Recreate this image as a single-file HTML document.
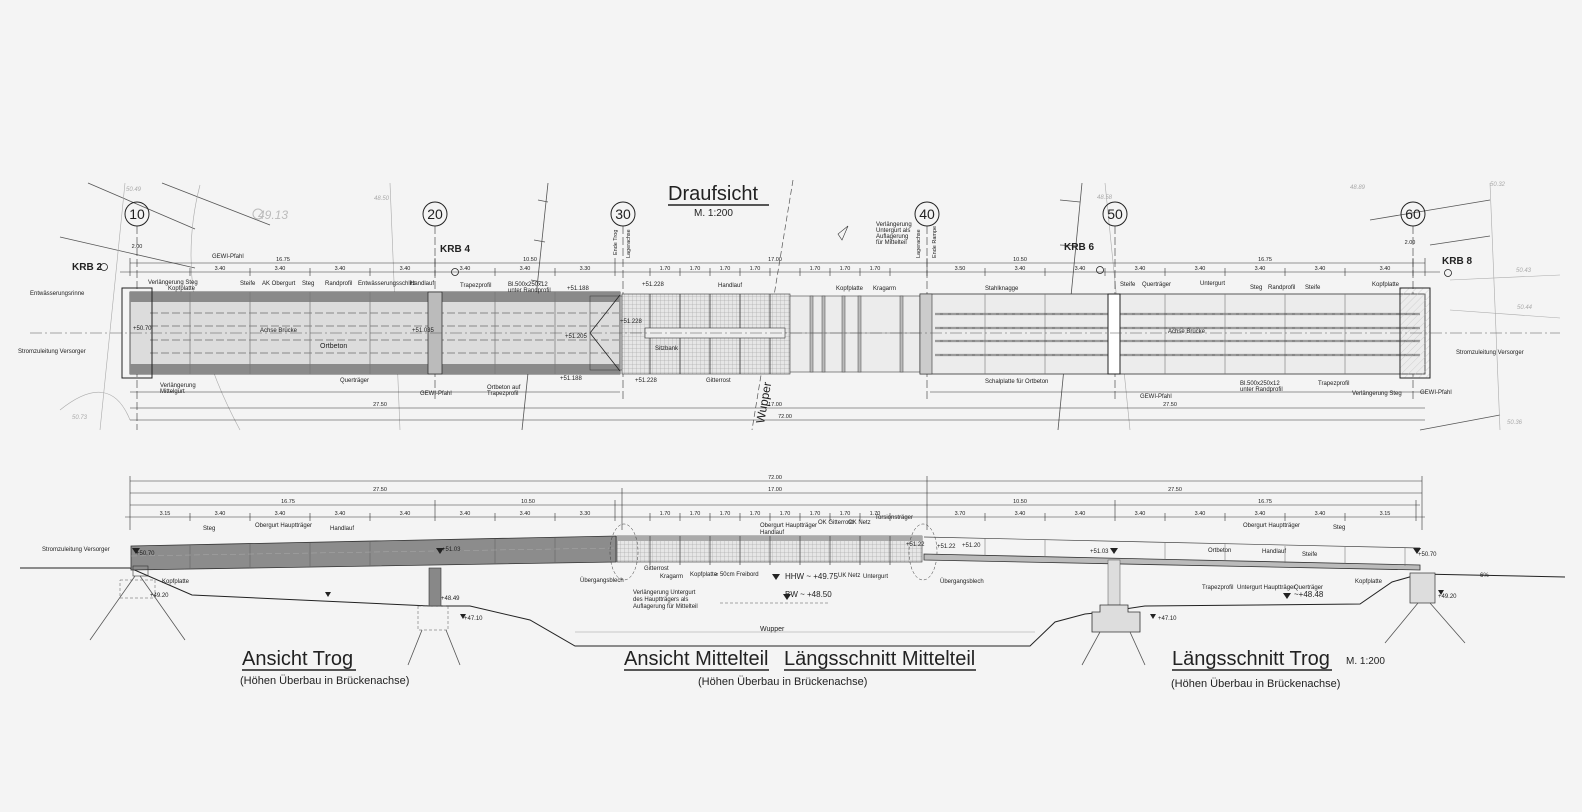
<!DOCTYPE html>
<html><head><meta charset="utf-8"><style>
html,body{margin:0;padding:0;background:#f4f4f4;}
svg{display:block}
text{font-family:"Liberation Sans",sans-serif;fill:#222}
.s{font-size:6px}
.t{font-size:5.5px}
.g{fill:#aaa;font-size:6px;font-style:italic}
</style></head><body>
<svg width="1582" height="812" viewBox="0 0 1582 812" xmlns="http://www.w3.org/2000/svg">
<defs>
<pattern id="grid" width="4" height="4" patternUnits="userSpaceOnUse"><rect width="4" height="4" fill="#e6e6e6"/><path d="M0 0H4M0 0V4" stroke="#999" stroke-width="0.5"/></pattern>
<pattern id="hatch" width="5" height="5" patternUnits="userSpaceOnUse" patternTransform="rotate(45)"><path d="M0 0V5" stroke="#bbb" stroke-width="0.6"/></pattern>
</defs>
<rect width="1582" height="812" fill="#f4f4f4"/>

<g stroke="#555" stroke-width="0.8" fill="none">
<path d="M88 183 L195 229"/><path d="M162 183 L270 225"/><path d="M60 237 L195 268"/>
<path d="M548 183 L522 430"/><path d="M538 200 L548 202 M534 240 L545 242 M531 280 L542 282 M528 320 L539 322"/>
<path d="M1082 183 L1058 430"/><path d="M1060 200 L1080 202 M1060 245 L1078 246"/>
<path d="M1370 220 L1490 200"/><path d="M1430 245 L1490 236"/><path d="M1420 430 L1500 415"/>
</g>
<g stroke="#aaa" stroke-width="0.6" fill="none">
<path d="M125 183 L100 430"/><path d="M390 183 L400 430"/><path d="M1105 183 L1130 430"/><path d="M1490 183 L1500 430"/>
<path d="M60 410 Q110 370 130 420"/><path d="M200 185 Q170 300 240 430"/>
<path d="M1450 280 L1560 275"/><path d="M1450 310 L1560 318"/>
</g>
<path d="M793 180 L752 430" stroke="#555" stroke-width="0.7" stroke-dasharray="6 3" fill="none"/>
<text x="258" y="219" style="font-size:12px;fill:#bbb;font-style:italic">49.13</text>
<circle cx="258" cy="214" r="5" fill="none" stroke="#bbb"/>
<text x="126" y="191" class="g">50.49</text><text x="374" y="200" class="g">48.50</text><text x="1097" y="199" class="g">48.58</text><text x="1350" y="189" class="g">48.89</text><text x="1490" y="186" class="g">50.32</text><text x="1516" y="272" class="g">50.43</text><text x="1517" y="309" class="g">50.44</text><text x="1507" y="424" class="g">50.36</text><text x="72" y="419" class="g">50.73</text>

<text x="668" y="200" style="font-size:20px">Draufsicht</text>
<line x1="668" y1="205" x2="769" y2="205" stroke="#222" stroke-width="1.5"/>
<text x="694" y="216" style="font-size:10px">M. 1:200</text>

<g fill="none" stroke="#222" stroke-width="1">
<circle cx="137" cy="214" r="12"/><circle cx="435" cy="214" r="12"/><circle cx="623" cy="214" r="12"/><circle cx="927" cy="214" r="12"/><circle cx="1115" cy="214" r="12"/><circle cx="1413" cy="214" r="12"/>
</g>
<g style="font-size:14px" text-anchor="middle">
<text x="137" y="219">10</text><text x="435" y="219">20</text><text x="623" y="219">30</text><text x="927" y="219">40</text><text x="1115" y="219">50</text><text x="1413" y="219">60</text>
</g>
<g stroke="#333" stroke-width="0.6" stroke-dasharray="8 3">
<line x1="137" y1="226" x2="137" y2="430"/><line x1="435" y1="226" x2="435" y2="400"/><line x1="623" y1="226" x2="623" y2="400"/><line x1="927" y1="226" x2="927" y2="400"/><line x1="1115" y1="226" x2="1115" y2="400"/><line x1="1413" y1="226" x2="1413" y2="400"/>
</g>

<g style="font-size:10px;font-weight:bold"><text x="72" y="270">KRB 2</text><text x="440" y="252">KRB 4</text><text x="1064" y="250">KRB 6</text><text x="1442" y="264">KRB 8</text></g>
<g fill="none" stroke="#222" stroke-width="0.8"><circle cx="104" cy="267" r="3.5"/><circle cx="455" cy="272" r="3.5"/><circle cx="1100" cy="270" r="3.5"/><circle cx="1448" cy="273" r="3.5"/></g>

<g stroke="#333" stroke-width="0.6">
<line x1="130" y1="263" x2="1425" y2="263"/><line x1="120" y1="272" x2="1440" y2="272"/>
<line x1="130" y1="408" x2="1425" y2="408"/><line x1="130" y1="420" x2="1425" y2="420"/>
<line x1="130" y1="392" x2="620" y2="392"/><line x1="930" y1="392" x2="1425" y2="392"/>
</g>
<g stroke="#333" stroke-width="0.6">
<path d="M130 258V276M190 268V276M250 268V276M310 268V276M370 268V276M435 258V276M495 268V276M555 268V276M615 258V276M650 268V276M680 268V276M710 268V276M740 268V276M770 268V276M800 268V276M830 268V276M860 268V276M890 268V276M927 258V276M985 268V276M1045 268V276M1105 268V276M1165 268V276M1225 268V276M1285 268V276M1345 268V276M1413 258V276M1425 258V276"/>
</g>
<g class="t" text-anchor="middle">
<text x="283" y="261" class="t">16.75</text><text x="530" y="261" class="t">10.50</text><text x="775" y="261" class="t">17.00</text><text x="1020" y="261" class="t">10.50</text><text x="1265" y="261" class="t">16.75</text>
<text x="220" y="270" class="t">3.40</text><text x="280" y="270" class="t">3.40</text><text x="340" y="270" class="t">3.40</text><text x="405" y="270" class="t">3.40</text><text x="465" y="270" class="t">3.40</text><text x="525" y="270" class="t">3.40</text><text x="585" y="270" class="t">3.30</text>
<text x="665" y="270" class="t">1.70</text><text x="695" y="270" class="t">1.70</text><text x="725" y="270" class="t">1.70</text><text x="755" y="270" class="t">1.70</text><text x="815" y="270" class="t">1.70</text><text x="845" y="270" class="t">1.70</text><text x="875" y="270" class="t">1.70</text>
<text x="960" y="270" class="t">3.50</text><text x="1020" y="270" class="t">3.40</text><text x="1080" y="270" class="t">3.40</text><text x="1140" y="270" class="t">3.40</text><text x="1200" y="270" class="t">3.40</text><text x="1260" y="270" class="t">3.40</text><text x="1320" y="270" class="t">3.40</text><text x="1385" y="270" class="t">3.40</text>
<text x="380" y="406" class="t">27.50</text><text x="1170" y="406" class="t">27.50</text><text x="775" y="406" class="t">17.00</text><text x="785" y="418" class="t">72.00</text><text x="137" y="248" class="t">2.00</text><text x="1410" y="244" class="t">2.00</text>
</g>

<rect x="130" y="292" width="490" height="82" fill="#dcdcdc" stroke="#333" stroke-width="0.8"/>
<rect x="130" y="292" width="490" height="10" fill="#8a8a8a"/>
<rect x="130" y="364" width="490" height="10" fill="#8a8a8a"/>
<g stroke="#999" stroke-width="1.2" stroke-dasharray="8 3">
<line x1="150" y1="313" x2="620" y2="313"/><line x1="150" y1="353" x2="620" y2="353"/><line x1="150" y1="326" x2="620" y2="326"/><line x1="150" y1="340" x2="620" y2="340"/>
</g>
<g stroke="#777" stroke-width="0.7"><path d="M190 292V374M250 292V374M310 292V374M370 292V374M495 292V374M555 292V374"/></g>
<rect x="122" y="288" width="30" height="90" fill="none" stroke="#222" stroke-width="1"/>
<rect x="428" y="292" width="14" height="82" fill="#bbb" stroke="#222" stroke-width="0.7"/>
<path d="M620 295 L590 333 L620 371" fill="none" stroke="#222" stroke-width="0.8"/>
<rect x="590" y="296" width="32" height="74" fill="none" stroke="#333" stroke-width="0.5"/>

<rect x="622" y="294" width="168" height="80" fill="url(#grid)" stroke="#333" stroke-width="0.6"/>
<g stroke="#333" stroke-width="0.8"><path d="M650 294V374M680 294V374M710 294V374M740 294V374M770 294V374"/></g>
<rect x="645" y="328" width="140" height="10" fill="#eee" stroke="#333" stroke-width="0.6"/>
<rect x="790" y="296" width="130" height="76" fill="#ececec" stroke="#444" stroke-width="0.6"/>
<g fill="#bbb" stroke="#444" stroke-width="0.5"><rect x="810" y="296" width="3" height="76"/><rect x="822" y="296" width="3" height="76"/><rect x="842" y="296" width="3" height="76"/><rect x="858" y="296" width="3" height="76"/><rect x="900" y="296" width="3" height="76"/></g>
<line x1="790" y1="333" x2="920" y2="333" stroke="#666" stroke-width="0.5"/>

<rect x="920" y="294" width="505" height="80" fill="#ececec" stroke="#333" stroke-width="0.8"/>
<rect x="920" y="294" width="12" height="80" fill="#ccc" stroke="#333" stroke-width="0.6"/>
<g stroke="#888" stroke-width="2.2"><path d="M935 314H1420M935 328H1420M935 341H1420M935 355H1420"/></g>
<g stroke="#bbb" stroke-width="0.8" stroke-dasharray="5 3"><path d="M935 314H1420M935 328H1420M935 341H1420M935 355H1420"/></g>
<g stroke="#777" stroke-width="0.6"><path d="M985 294V374M1045 294V374M1165 294V374M1225 294V374M1285 294V374M1345 294V374"/></g>
<rect x="1108" y="294" width="12" height="80" fill="#fff" stroke="#222" stroke-width="1"/>
<rect x="1400" y="288" width="30" height="90" fill="url(#hatch)" stroke="#222" stroke-width="1"/>
<line x1="30" y1="333" x2="1560" y2="333" stroke="#555" stroke-width="0.6" stroke-dasharray="12 3 2 3"/>
<text transform="translate(764,424) rotate(-80)" style="font-size:12px">Wupper</text>

<g class="s">
<text x="30" y="295">Entwässerungsrinne</text><text x="18" y="353">Stromzuleitung Versorger</text>
<text x="148" y="284">Verlängerung Steg</text><text x="168" y="290">Kopfplatte</text><text x="212" y="258">GEWI-Pfahl</text>
<text x="240" y="285">Steife</text><text x="262" y="285">AK Obergurt</text><text x="302" y="285">Steg</text><text x="325" y="285">Randprofil</text><text x="358" y="285">Entwässerungsschlitz</text><text x="410" y="285">Handlauf</text><text x="460" y="287">Trapezprofil</text>
<text x="508" y="286">Bl.500x250x12</text><text x="508" y="292">unter Randprofil</text>
<text x="260" y="332">Achse Brücke</text><text x="320" y="348" style="font-size:7px">Ortbeton</text><text x="340" y="382">Querträger</text>
<text x="160" y="387">Verlängerung</text><text x="160" y="393">Mittelgurt</text><text x="420" y="395">GEWI-Pfahl</text>
<text x="487" y="389">Ortbeton auf</text><text x="487" y="395">Trapezprofil</text>
<text x="133" y="330">+50.70</text><text x="412" y="332">+51.035</text><text x="567" y="290">+51.188</text><text x="642" y="286">+51.228</text><text x="620" y="323">+51.228</text><text x="565" y="338">+51.205</text><text x="560" y="380">+51.188</text><text x="635" y="382">+51.228</text>
<text x="718" y="287">Handlauf</text><text x="655" y="350">Sitzbank</text><text x="706" y="382">Gitterrost</text>
<text x="836" y="290">Kopfplatte</text><text x="873" y="290">Kragarm</text>
<text x="876" y="226">Verlängerung</text><text x="876" y="232">Untergurt als</text><text x="876" y="238">Auflagerung</text><text x="876" y="244">für Mittelteil</text>
<text x="985" y="290">Stahlknagge</text><text x="1120" y="286">Steife</text><text x="1142" y="286">Querträger</text><text x="1200" y="285">Untergurt</text><text x="1250" y="289">Steg</text><text x="1268" y="289">Randprofil</text><text x="1305" y="289">Steife</text>
<text x="1168" y="333">Achse Brücke</text><text x="985" y="383">Schalplatte für Ortbeton</text><text x="1140" y="398">GEWI-Pfahl</text>
<text x="1240" y="385">Bl.500x250x12</text><text x="1240" y="391">unter Randprofil</text><text x="1318" y="385">Trapezprofil</text>
<text x="1352" y="395">Verlängerung Steg</text><text x="1420" y="394">GEWI-Pfahl</text><text x="1372" y="286">Kopfplatte</text><text x="1456" y="354">Stromzuleitung Versorger</text>
</g>
<g class="t"><text x="617" y="255" transform="rotate(-90 617 255)">Ende Trog</text><text x="630" y="258" transform="rotate(-90 630 258)">Lagerachse</text><text x="920" y="258" transform="rotate(-90 920 258)">Lagerachse</text><text x="936" y="258" transform="rotate(-90 936 258)">Ende Rampe</text></g>
<path d="M842 240 L848 226 L838 234 Z" fill="none" stroke="#333" stroke-width="0.6"/>

<g stroke="#333" stroke-width="0.6">
<line x1="130" y1="481" x2="1422" y2="481"/><line x1="130" y1="493" x2="1422" y2="493"/><line x1="130" y1="505" x2="1420" y2="505"/><line x1="125" y1="517" x2="1425" y2="517"/>
<path d="M130 476V530M190 513V521M250 513V521M310 513V521M370 513V521M435 500V521M495 513V521M555 513V521M615 500V521M622 488V530M650 513V521M680 513V521M710 513V521M740 513V521M770 513V521M800 513V521M830 513V521M860 513V521M890 513V521M927 476V530M985 513V521M1045 513V521M1115 500V521M1165 513V521M1225 513V521M1285 513V521M1345 513V521M1416 500V521M1422 476V530"/>
</g>
<g class="t" text-anchor="middle">
<text x="775" y="479">72.00</text><text x="380" y="491">27.50</text><text x="775" y="491">17.00</text><text x="1175" y="491">27.50</text><text x="288" y="503">16.75</text><text x="528" y="503">10.50</text><text x="1020" y="503">10.50</text><text x="1265" y="503">16.75</text>
<text x="165" y="515">3.15</text><text x="220" y="515">3.40</text><text x="280" y="515">3.40</text><text x="340" y="515">3.40</text><text x="405" y="515">3.40</text><text x="465" y="515">3.40</text><text x="525" y="515">3.40</text><text x="585" y="515">3.30</text>
<text x="665" y="515">1.70</text><text x="695" y="515">1.70</text><text x="725" y="515">1.70</text><text x="755" y="515">1.70</text><text x="785" y="515">1.70</text><text x="815" y="515">1.70</text><text x="845" y="515">1.70</text><text x="875" y="515">1.70</text>
<text x="960" y="515">3.70</text><text x="1020" y="515">3.40</text><text x="1080" y="515">3.40</text><text x="1140" y="515">3.40</text><text x="1200" y="515">3.40</text><text x="1260" y="515">3.40</text><text x="1320" y="515">3.40</text><text x="1385" y="515">3.15</text>
</g>

<path d="M20 568 L130 568 L192 595 L430 606 L470 606 L530 620 L575 646 L1030 646 L1055 622 L1085 614 L1105 612 L1145 606 L1360 604 L1392 582 L1420 574 L1565 577" fill="none" stroke="#222" stroke-width="1"/>
<line x1="575" y1="632" x2="1035" y2="632" stroke="#999" stroke-width="0.6"/>
<text x="760" y="631" class="s" style="font-size:7px">Wupper</text>
<line x1="720" y1="603" x2="830" y2="603" stroke="#555" stroke-width="0.5" stroke-dasharray="3 2"/>

<polygon points="131,546 616,536 616,562 131,570" fill="#8c8c8c" stroke="#333" stroke-width="0.8"/>
<g stroke="#666" stroke-width="0.6"><path d="M190 545V569M250 544V568M310 543V567M370 542V566M495 539V564M555 538V563"/></g>
<line x1="131" y1="556" x2="616" y2="548" stroke="#aaa" stroke-width="0.5" stroke-dasharray="6 3"/>
<rect x="429" y="568" width="12" height="38" fill="#888" stroke="#333" stroke-width="0.6"/>
<rect x="617" y="536" width="305" height="26" fill="url(#grid)" stroke="#333" stroke-width="0.6"/>
<rect x="617" y="536" width="305" height="5" fill="#aaa"/>
<g stroke="#444" stroke-width="0.7"><path d="M650 536V565M680 536V565M710 536V565M740 536V565M770 536V565M800 536V565M830 536V565M860 536V565M890 536V565"/></g>
<ellipse cx="624" cy="552" rx="14" ry="28" fill="none" stroke="#333" stroke-width="0.5" stroke-dasharray="3 2"/>
<ellipse cx="923" cy="552" rx="14" ry="28" fill="none" stroke="#333" stroke-width="0.5" stroke-dasharray="3 2"/>
<polygon points="924,554 1420,565 1420,570 924,560" fill="#bbb" stroke="#333" stroke-width="0.8"/>
<line x1="924" y1="537" x2="1420" y2="548" stroke="#444" stroke-width="0.7"/>
<g stroke="#666" stroke-width="0.5"><path d="M985 538V556M1045 540V557M1165 543V560M1225 544V561M1285 546V563M1345 547V564M1405 548V566"/></g>
<rect x="1108" y="560" width="12" height="45" fill="#ddd" stroke="#555" stroke-width="0.5"/>
<path d="M1100 605 L1128 605 L1128 612 L1140 612 L1140 632 L1092 632 L1092 612 L1100 612 Z" fill="#ddd" stroke="#333" stroke-width="0.8"/>
<rect x="133" y="566" width="15" height="10" fill="none" stroke="#333" stroke-width="0.6"/>
<rect x="120" y="580" width="35" height="18" fill="none" stroke="#555" stroke-width="0.5" stroke-dasharray="3 2"/>
<rect x="1410" y="573" width="25" height="30" fill="#ddd" stroke="#333" stroke-width="0.7"/>
<rect x="418" y="606" width="30" height="24" fill="none" stroke="#555" stroke-width="0.5" stroke-dasharray="3 2"/>
<g stroke="#555" stroke-width="0.8">
<path d="M135 576 L90 640M140 576 L185 640M422 630 L408 665M446 630 L460 665M1100 632 L1082 665M1130 632 L1145 665M1418 603 L1385 643M1430 603 L1465 643"/>
</g>
<g class="s">
<text x="42" y="551">Stromzuleitung Versorger</text><text x="203" y="530">Steg</text><text x="255" y="527">Obergurt Hauptträger</text><text x="330" y="530">Handlauf</text>
<text x="136" y="555">+50.70</text><text x="162" y="583">Kopfplatte</text><text x="150" y="597">+49.20</text><text x="442" y="551">+51.03</text><text x="441" y="600">+48.49</text><text x="464" y="620">+47.10</text>
<text x="580" y="582">Übergangsblech</text><text x="644" y="570">Gitterrost</text><text x="660" y="578">Kragarm</text><text x="690" y="576">Kopfplatte</text><text x="715" y="576">≥ 50cm Freibord</text>
<text x="633" y="594">Verlängerung Untergurt</text><text x="633" y="601">des Hauptträgers als</text><text x="633" y="608">Auflagerung für Mittelteil</text>
<text x="760" y="527">Obergurt Hauptträger</text><text x="760" y="534">Handlauf</text><text x="818" y="524">OK Gitterrost</text><text x="848" y="524">OK Netz</text><text x="875" y="519">Torsionsträger</text>
<text x="838" y="577">UK Netz</text><text x="863" y="578">Untergurt</text><text x="940" y="583">Übergangsblech</text><text x="906" y="546">+51.22</text><text x="937" y="548">+51.22</text><text x="962" y="547">+51.20</text>
<text x="1090" y="553">+51.03</text><text x="1208" y="552">Ortbeton</text><text x="1262" y="553">Handlauf</text><text x="1302" y="556">Steife</text><text x="1243" y="527">Obergurt Hauptträger</text><text x="1333" y="529">Steg</text>
<text x="1202" y="589">Trapezprofil</text><text x="1237" y="589">Untergurt Hauptträger</text><text x="1294" y="589">Querträger</text><text x="1355" y="583">Kopfplatte</text><text x="1418" y="556">+50.70</text><text x="1438" y="598">+49.20</text><text x="1158" y="620">+47.10</text><text x="1480" y="577">6%</text>
</g>
<text x="785" y="579" style="font-size:8px">HHW ~ +49.75</text><text x="785" y="597" style="font-size:8px">BW ~ +48.50</text><text x="1294" y="597" style="font-size:8px">~+48.48</text>
<g fill="#222"><path d="M132 548h8l-4 6z"/><path d="M436 548h8l-4 6z"/><path d="M772 574h8l-4 6z"/><path d="M783 594h8l-4 6z"/><path d="M1283 593h8l-4 6z"/><path d="M1413 548h8l-4 6z"/><path d="M1110 548h8l-4 6z"/><path d="M325 592h6l-3 5z"/><path d="M460 614h6l-3 5z"/><path d="M1150 614h6l-3 5z"/><path d="M1438 590h6l-3 5z"/></g>

<g style="font-size:20px">
<text x="242" y="665">Ansicht Trog</text><text x="624" y="665">Ansicht Mittelteil</text><text x="784" y="665">Längsschnitt Mittelteil</text><text x="1172" y="665">Längsschnitt Trog</text>
</g>
<g stroke="#222" stroke-width="1.5"><line x1="242" y1="670" x2="356" y2="670"/><line x1="624" y1="670" x2="769" y2="670"/><line x1="784" y1="670" x2="976" y2="670"/><line x1="1172" y1="670" x2="1332" y2="670"/></g>
<text x="1346" y="664" style="font-size:10px">M. 1:200</text>
<g style="font-size:11px"><text x="240" y="684">(Höhen Überbau in Brückenachse)</text><text x="698" y="685">(Höhen Überbau in Brückenachse)</text><text x="1171" y="687">(Höhen Überbau in Brückenachse)</text></g>
</svg>
</body></html>
